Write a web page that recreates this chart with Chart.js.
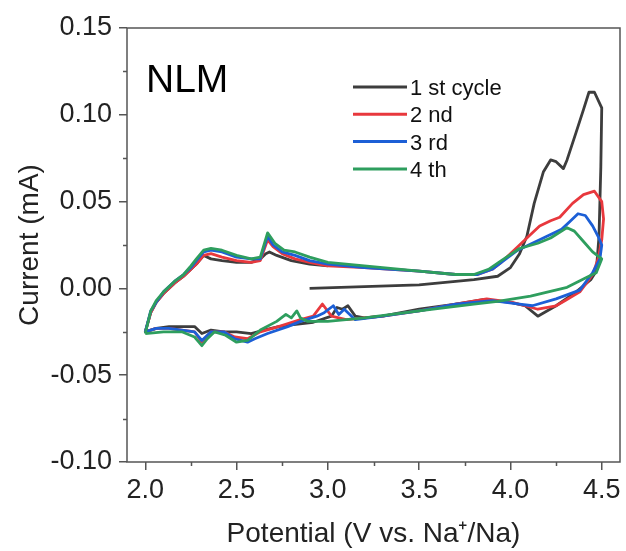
<!DOCTYPE html>
<html>
<head>
<meta charset="utf-8">
<script src="https://cdn.jsdelivr.net/npm/chart.js@4.4.1/dist/chart.umd.min.js"></script>
<style>
  html, body { margin: 0; padding: 0; background: #fff; }
  #cv { display: block; }
</style>
</head>
<body>
<canvas id="cv" width="626" height="551"></canvas>
<script>
// Axis ticks
const potentialTicks = [2.0, 2.5, 3.0, 3.5, 4.0, 4.5];
const currentTicks = [-0.10, -0.05, 0.00, 0.05, 0.10, 0.15];

// Cycle labels
const cycleLabels = ["1 st cycle", "2 nd", "3 rd", "4 th"];

// 1st cycle (starts at 2.9 V, scans up)
const cycle1V = [2.90, 3.20, 3.50, 3.80, 3.93, 4.00, 4.05, 4.09, 4.13, 4.18, 4.22, 4.25, 4.29, 4.31, 4.36, 4.40, 4.43, 4.46, 4.50, 4.495, 4.485, 4.47, 4.44, 4.36, 4.25, 4.15, 4.08, 4.00, 3.85, 3.70, 3.50, 3.30, 3.20, 3.15, 3.11, 3.08, 3.05, 3.02, 2.92, 2.80, 2.73, 2.65, 2.58, 2.50, 2.43, 2.36, 2.31, 2.27, 2.20, 2.13, 2.06, 2.00, 2.03, 2.06, 2.10, 2.16, 2.21, 2.25, 2.28, 2.32, 2.36, 2.42, 2.50, 2.58, 2.63, 2.66, 2.68, 2.72, 2.80, 2.90, 3.00];
const cycle1I = [0.000, 0.001, 0.002, 0.005, 0.007, 0.012, 0.020, 0.030, 0.049, 0.067, 0.074, 0.073, 0.069, 0.074, 0.090, 0.103, 0.113, 0.113, 0.104, 0.070, 0.030, 0.010, 0.005, -0.002, -0.010, -0.016, -0.010, -0.008, -0.0065, -0.009, -0.012, -0.016, -0.017, -0.016, -0.010, -0.012, -0.011, -0.016, -0.0195, -0.021, -0.022, -0.024, -0.026, -0.025, -0.025, -0.024, -0.026, -0.022, -0.022, -0.022, -0.023, -0.025, -0.014, -0.008, -0.003, 0.003, 0.007, 0.011, 0.014, 0.019, 0.017, 0.016, 0.015, 0.015, 0.017, 0.020, 0.021, 0.019, 0.016, 0.014, 0.013];

// 2nd cycle
const cycle2V = [2.00, 2.03, 2.06, 2.10, 2.16, 2.21, 2.25, 2.28, 2.32, 2.36, 2.42, 2.50, 2.58, 2.63, 2.67, 2.70, 2.75, 2.82, 2.90, 3.00, 3.20, 3.50, 3.70, 3.82, 3.90, 3.95, 4.04, 4.10, 4.16, 4.22, 4.27, 4.34, 4.40, 4.46, 4.50, 4.51, 4.50, 4.48, 4.45, 4.43, 4.38, 4.30, 4.25, 4.15, 4.08, 4.01, 3.87, 3.70, 3.50, 3.30, 3.10, 3.02, 2.97, 2.92, 2.85, 2.73, 2.63, 2.56, 2.49, 2.43, 2.36, 2.31, 2.27, 2.20, 2.13, 2.06, 2.00];
const cycle2I = [-0.025, -0.014, -0.008, -0.003, 0.003, 0.007, 0.011, 0.014, 0.019, 0.020, 0.018, 0.016, 0.015, 0.016, 0.028, 0.024, 0.020, 0.017, 0.015, 0.013, 0.012, 0.010, 0.008, 0.008, 0.011, 0.015, 0.024, 0.030, 0.036, 0.039, 0.041, 0.049, 0.054, 0.056, 0.050, 0.040, 0.028, 0.017, 0.008, 0.005, -0.002, -0.007, -0.010, -0.012, -0.010, -0.008, -0.006, -0.009, -0.013, -0.016, -0.018, -0.016, -0.009, -0.016, -0.018, -0.022, -0.025, -0.029, -0.028, -0.025, -0.025, -0.031, -0.025, -0.024, -0.023, -0.023, -0.025];

// 3rd cycle
const cycle3V = [2.00, 2.03, 2.06, 2.10, 2.16, 2.21, 2.25, 2.28, 2.32, 2.36, 2.42, 2.50, 2.58, 2.63, 2.67, 2.70, 2.75, 2.82, 2.90, 3.00, 3.20, 3.50, 3.70, 3.82, 3.90, 3.95, 4.04, 4.12, 4.20, 4.28, 4.33, 4.37, 4.41, 4.45, 4.48, 4.50, 4.49, 4.45, 4.38, 4.25, 4.12, 4.05, 3.90, 3.70, 3.50, 3.30, 3.15, 3.09, 3.06, 3.03, 2.98, 2.94, 2.85, 2.78, 2.67, 2.60, 2.56, 2.49, 2.43, 2.36, 2.31, 2.27, 2.20, 2.13, 2.06, 2.00];
const cycle3I = [-0.025, -0.013, -0.008, -0.002, 0.004, 0.008, 0.012, 0.016, 0.021, 0.022, 0.021, 0.018, 0.017, 0.017, 0.030, 0.025, 0.021, 0.019, 0.016, 0.014, 0.012, 0.010, 0.008, 0.008, 0.011, 0.015, 0.022, 0.026, 0.030, 0.034, 0.039, 0.043, 0.042, 0.036, 0.030, 0.025, 0.017, 0.009, -0.001, -0.006, -0.010, -0.009, -0.007, -0.009, -0.013, -0.016, -0.018, -0.012, -0.015, -0.010, -0.014, -0.016, -0.019, -0.022, -0.026, -0.029, -0.031, -0.029, -0.025, -0.025, -0.030, -0.025, -0.024, -0.023, -0.023, -0.025];

// 4th cycle
const cycle4V = [2.00, 2.03, 2.06, 2.10, 2.16, 2.21, 2.25, 2.28, 2.32, 2.36, 2.42, 2.50, 2.58, 2.63, 2.67, 2.71, 2.76, 2.82, 2.90, 3.00, 3.20, 3.50, 3.70, 3.80, 3.88, 3.95, 4.05, 4.15, 4.22, 4.28, 4.31, 4.35, 4.40, 4.45, 4.50, 4.47, 4.43, 4.31, 4.11, 3.93, 3.80, 3.50, 3.20, 3.00, 2.89, 2.85, 2.83, 2.80, 2.77, 2.72, 2.63, 2.56, 2.50, 2.44, 2.38, 2.34, 2.31, 2.27, 2.20, 2.10, 2.00];
const cycle4I = [-0.026, -0.013, -0.007, -0.002, 0.004, 0.008, 0.013, 0.017, 0.022, 0.023, 0.022, 0.019, 0.017, 0.018, 0.032, 0.026, 0.022, 0.021, 0.018, 0.015, 0.013, 0.010, 0.008, 0.008, 0.011, 0.016, 0.023, 0.026, 0.029, 0.033, 0.035, 0.033, 0.027, 0.021, 0.017, 0.009, 0.007, 0.0006, -0.0045, -0.0075, -0.009, -0.013, -0.017, -0.019, -0.019, -0.017, -0.013, -0.017, -0.015, -0.019, -0.024, -0.030, -0.031, -0.027, -0.025, -0.029, -0.033, -0.028, -0.025, -0.025, -0.026];

const colors = ["#3d3d3d", "#e8383d", "#1c5fd6", "#2e9e5e"];
const FONT = "'Liberation Sans', Arial, sans-serif";
const AXIS = "#555";

function toPoints(vs, is) {
  return vs.map((v, k) => ({ x: v, y: is[k] }));
}

const series = [
  toPoints(cycle1V, cycle1I),
  toPoints(cycle2V, cycle2I),
  toPoints(cycle3V, cycle3I),
  toPoints(cycle4V, cycle4I)
];

// box, minor ticks, label and legend
const decorations = {
  id: "decorations",
  afterDraw(chart) {
    const { ctx, chartArea: a, scales } = chart;
    ctx.save();
    ctx.strokeStyle = AXIS;
    ctx.lineWidth = 1.5;
    ctx.strokeRect(a.left, a.top, a.right - a.left, a.bottom - a.top);

    // minor ticks
    ctx.beginPath();
    for (let k = 0; k < potentialTicks.length - 1; k++) {
      const px = Math.round(scales.x.getPixelForValue((potentialTicks[k] + potentialTicks[k + 1]) / 2)) + 0.5;
      ctx.moveTo(px, a.bottom);
      ctx.lineTo(px, a.bottom + 4);
    }
    for (let k = 0; k < currentTicks.length - 1; k++) {
      const py = Math.round(scales.y.getPixelForValue((currentTicks[k] + currentTicks[k + 1]) / 2)) + 0.5;
      ctx.moveTo(a.left, py);
      ctx.lineTo(a.left - 4, py);
    }
    ctx.stroke();

    // sample label
    ctx.fillStyle = "#000";
    ctx.textBaseline = "alphabetic";
    ctx.font = "39px " + FONT;
    ctx.fillText("NLM", 146, 92);

    // legend
    ctx.font = "22px " + FONT;
    cycleLabels.forEach((label, k) => {
      const y = 87 + k * 27.3;
      ctx.strokeStyle = colors[k];
      ctx.lineWidth = 3;
      ctx.beginPath();
      ctx.moveTo(353, y);
      ctx.lineTo(407, y);
      ctx.stroke();
      ctx.fillStyle = "#111";
      ctx.fillText(label, 410, y + 8);
    });
    ctx.restore();
  }
};

new Chart(document.getElementById("cv").getContext("2d"), {
  type: "scatter",
  data: {
    datasets: series.map((pts, k) => ({
      label: cycleLabels[k],
      data: pts,
      showLine: true,
      borderColor: colors[k],
      backgroundColor: colors[k],
      borderWidth: 2.8,
      borderJoinStyle: "round",
      pointRadius: 0,
      tension: 0,
      order: 3 - k
    }))
  },
  options: {
    responsive: false,
    animation: false,
    layout: { padding: { top: 28, right: 6, bottom: 0, left: 0 } },
    plugins: {
      legend: { display: false },
      tooltip: { enabled: false }
    },
    scales: {
      x: {
        type: "linear",
        min: 1.9,
        max: 4.6,
        afterBuildTicks: s => { s.ticks = potentialTicks.map(v => ({ value: v })); },
        afterFit: s => { s.height = 89; },
        border: { display: false },
        grid: { drawOnChartArea: false, drawTicks: true, tickLength: 8, color: AXIS, lineWidth: 1.5 },
        ticks: {
          padding: 4,
          color: "#222",
          font: { family: FONT, size: 27 },
          callback: v => Number(v).toFixed(1)
        },
        title: {
          display: true,
          text: "Potential (V vs. Na\u207A/Na)",
          color: "#222",
          font: { family: FONT, size: 28 },
          padding: { top: 0, bottom: 0 }
        }
      },
      y: {
        type: "linear",
        min: -0.10,
        max: 0.15,
        afterBuildTicks: s => { s.ticks = currentTicks.map(v => ({ value: v })); },
        afterFit: s => { s.width = 127; },
        border: { display: false },
        grid: { drawOnChartArea: false, drawTicks: true, tickLength: 8, color: AXIS, lineWidth: 1.5 },
        ticks: {
          padding: 7,
          color: "#222",
          font: { family: FONT, size: 27 },
          callback: v => Number(v).toFixed(2)
        },
        title: {
          display: true,
          text: "Current (mA)",
          color: "#222",
          font: { family: FONT, size: 28 },
          padding: { top: 13, bottom: 0 }
        }
      }
    }
  },
  plugins: [decorations]
});
</script>
</body>
</html>
